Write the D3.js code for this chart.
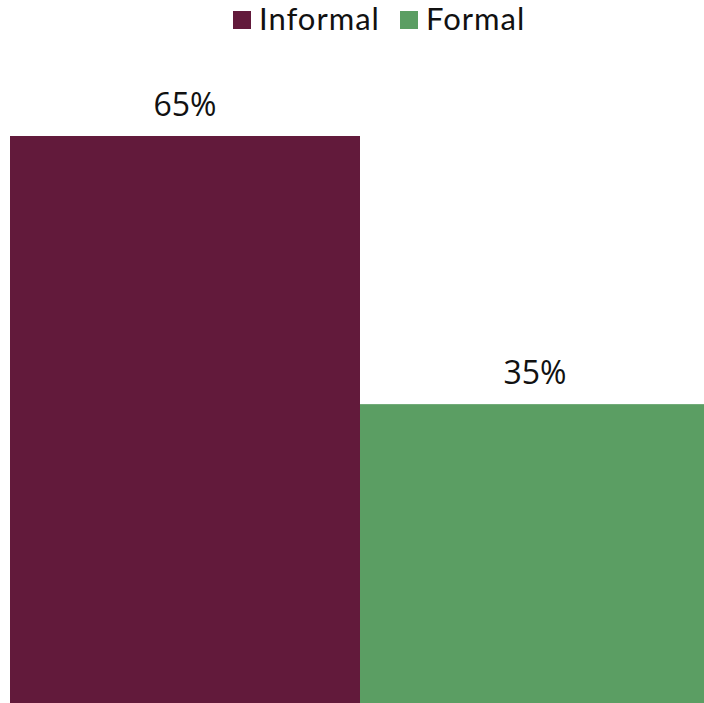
<!DOCTYPE html>
<html><head><meta charset="utf-8">
<script src="https://cdn.jsdelivr.net/npm/d3@7"></script>
<style>body{margin:0;background:#fff}svg{display:block}</style>
</head><body>
<script>
const categories = ["Informal", "Formal"];
const values = [65, 35];
const labels = ["65%", "35%"];
const colors = ["#621A3B", "#5B9E63"];

const W = 704, H = 703;
const svg = d3.select("body").append("svg").attr("width", W).attr("height", H);
const font = "Lato, 'Open Sans', sans-serif";

const x = d3.scaleBand().domain(categories).range([10, 710]).paddingInner(0).paddingOuter(0);
const y = d3.scaleLinear().domain([0, 65]).range([717, 136]);

svg.selectAll("rect.bar").data(values).enter().append("rect")
  .attr("class", "bar")
  .attr("x", (d, i) => x(categories[i]))
  .attr("width", x.bandwidth())
  .attr("y", d => y(d))
  .attr("height", d => y(0) - y(d))
  .attr("fill", (d, i) => colors[i]);

const labelX = [185, 535];
svg.selectAll("text.lbl").data(values).enter().append("text")
  .attr("class", "lbl")
  .attr("x", (d, i) => labelX[i])
  .attr("y", d => y(d) - 20)
  .attr("text-anchor", "middle")
  .attr("font-family", "'Open Sans', sans-serif")
  .attr("font-size", 32)
  .attr("fill", "#111")
  .text((d, i) => labels[i]);

// legend
const legendX = [233, 400];
const lg = svg.selectAll("g.leg").data(categories).enter().append("g")
  .attr("class", "leg")
  .attr("transform", (d, i) => `translate(${legendX[i]},0)`);
lg.append("rect").attr("x", 0).attr("y", 11).attr("width", 18).attr("height", 18)
  .attr("fill", (d, i) => colors[i]);
lg.append("text").attr("x", 26).attr("y", 30)
  .attr("font-family", font).attr("font-size", 31).attr("letter-spacing", 1).attr("fill", "#111")
  .text(d => d);
</script>
</body></html>
